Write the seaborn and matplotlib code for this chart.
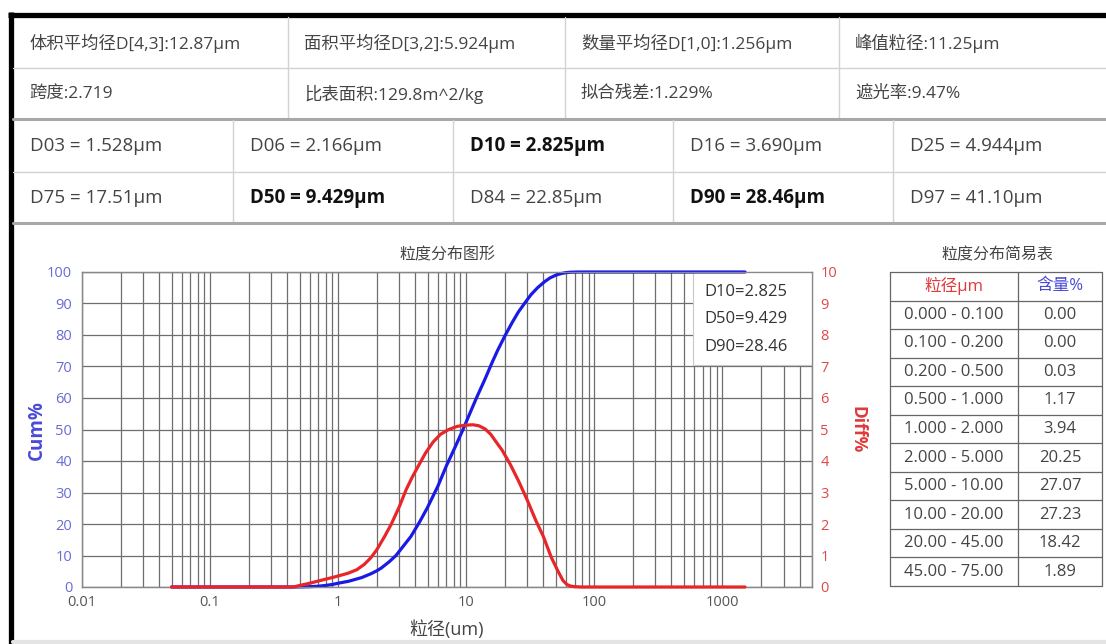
import numpy as np
import pandas as pd
import matplotlib
matplotlib.use("Agg")
import matplotlib.pyplot as plt
import seaborn as sns
from matplotlib.ticker import FixedLocator, LogLocator, NullFormatter
from matplotlib.patches import Rectangle

# Summary values (top blocks)
stats_row1 = ['体积平均径D[4,3]:12.87µm', '面积平均径D[3,2]:5.924µm', '数量平均径D[1,0]:1.256µm', '峰值粒径:11.25µm']
stats_row2 = ['跨度:2.719', '比表面积:129.8m^2/kg', '拟合残差:1.229%', '遮光率:9.47%']
d_row1 = ['D03 = 1.528µm', 'D06 = 2.166µm', 'D10 = 2.825µm', 'D16 = 3.690µm', 'D25 = 4.944µm']
d_row2 = ['D75 = 17.51µm', 'D50 = 9.429µm', 'D84 = 22.85µm', 'D90 = 28.46µm', 'D97 = 41.10µm']
bold_keys = ['D10', 'D50', 'D90']

# Cumulative curve (blue)
cum_size = [0.05, 0.4, 0.5, 0.6, 0.7, 0.8, 0.9, 1.0, 1.2, 1.528, 1.8, 2.0, 2.166, 2.5,
            2.825, 3.2, 3.69, 4.3, 4.944, 5.0, 6.0, 7.0, 8.2, 9.429, 10.0, 12.0, 14.0,
            15.8, 17.51, 20.0, 22.85, 25.5, 28.46, 32.0, 36.0, 41.10, 45.0, 50.0, 55.0,
            60.0, 65.0, 75.0, 100.0, 1500.0]
cum_pct = [0, 0, 0.03, 0.1, 0.25, 0.5, 0.8, 1.2, 1.8, 3, 4.2, 5.14, 6, 8,
           10, 12.8, 16, 20.5, 25, 25.39, 32, 38.5, 44.5, 50, 52.46, 60, 66,
           71, 75, 79.69, 84, 87.3, 90, 92.8, 95, 97, 98.11, 99.0, 99.5,
           99.8, 99.93, 100, 100, 100]

# Differential curve (red)
diff_size = [0.05, 0.45, 0.5, 0.6, 0.7, 0.8, 0.9, 1.0, 1.2, 1.4, 1.6, 1.8, 2.0, 2.3,
             2.6, 3.0, 3.4, 3.8, 4.3, 4.8, 5.5, 6.3, 7.3, 8.5, 10.0, 11.25, 12.5, 14.0,
             15.5, 17.0, 19.0, 22.0, 25.7, 30.0, 35.0, 40.0, 46.0, 52.0, 57.0, 61.0,
             65.0, 70.0, 80.0, 1500.0]
diff_pct = [0, 0, 0.05, 0.12, 0.19, 0.25, 0.3, 0.35, 0.44, 0.55, 0.72, 0.93, 1.18, 1.6,
            2.0, 2.55, 3.1, 3.5, 3.9, 4.25, 4.6, 4.85, 5.0, 5.1, 5.14, 5.15, 5.12, 5.02,
            4.85, 4.62, 4.35, 3.9, 3.35, 2.75, 2.1, 1.6, 0.95, 0.5, 0.2, 0.08,
            0.03, 0.01, 0, 0]

x_ticks = [0.01, 0.1, 1, 10, 100, 1000]
x_tick_labels = ['0.01', '0.1', '1', '10', '100', '1000']
cum_ticks = list(range(0, 101, 10))
diff_ticks = list(range(0, 11))
marks = ['D10=2.825', 'D50=9.429', 'D90=28.46']

# Simple table on the right
bin_labels = ['0.000 - 0.100', '0.100 - 0.200', '0.200 - 0.500', '0.500 - 1.000',
              '1.000 - 2.000', '2.000 - 5.000', '5.000 - 10.00', '10.00 - 20.00',
              '20.00 - 45.00', '45.00 - 75.00']
bin_content = ['0.00', '0.00', '0.03', '1.17', '3.94', '20.25', '27.07', '27.23', '18.42', '1.89']

sns.set_style("white")
plt.rcParams['font.family'] = ['Open Sans', 'Noto Sans CJK SC', 'DejaVu Sans']

W, H = 1106, 644
fig = plt.figure(figsize=(W / 100, H / 100), dpi=100)

# background layer in pixel coordinates for tables/frame
bg = fig.add_axes([0, 0, 1, 1])
bg.set_xlim(0, W)
bg.set_ylim(H, 0)
bg.axis('off')

text_col = '#444444'
line_col = '#d2d2d2'

# black frame
bg.plot([8, W], [14.5, 14.5], color='black', lw=3.8, solid_capstyle='butt')
bg.plot([10.5, 10.5], [12, H], color='black', lw=3.8, solid_capstyle='butt')
bg.plot([13, W], [641.5, 641.5], color='#e4e4e4', lw=3)

# top block: 2 rows x 4 cols
bg.plot([13, W], [68, 68], color=line_col, lw=1)
for x in [288, 565, 839]:
    bg.plot([x, x], [17, 118], color=line_col, lw=1)
col_left1 = [13, 288, 565, 839]
for i, (a, b) in enumerate(zip(stats_row1, stats_row2)):
    bg.text(col_left1[i] + 16, 43, a, fontsize=12.5, color=text_col, va='center')
    bg.text(col_left1[i] + 16, 94, b, fontsize=12.5, color=text_col, va='center')

bg.plot([13, W], [119, 119], color='#a8a8a8', lw=2.2)

# D values block: 2 rows x 5 cols
bg.plot([13, W], [172, 172], color=line_col, lw=1)
for x in [233, 453, 673, 893]:
    bg.plot([x, x], [120, 222], color=line_col, lw=1)
col_left2 = [13, 233, 453, 673, 893]
for i, (a, b) in enumerate(zip(d_row1, d_row2)):
    for txt, y in [(a, 146), (b, 198)]:
        is_bold = txt.split(' ')[0] in bold_keys
        bg.text(col_left2[i] + 17, y, txt, fontsize=13.5,
                color='#111111' if is_bold else text_col,
                fontweight='bold' if is_bold else 'normal', va='center')

bg.plot([13, W], [223, 223], color='#a8a8a8', lw=2.2)

# chart texts
bg.text(447, 255, '粒度分布图形', fontsize=11.5, color=text_col, ha='center', va='center')
bg.text(447, 630, '粒径(um)', fontsize=13, color=text_col, ha='center', va='center')
bg.text(37, 430, 'Cum%', fontsize=13.5, color='#4a4ad8', rotation=90, ha='center', va='center',
        fontweight='bold')
bg.text(857, 430, 'Diff%', fontsize=12.5, color='#e03a3a', rotation=270, ha='center', va='center',
        fontweight='bold')

# right summary table
tx = [890, 1018, 1102]
ty = np.linspace(272, 586, len(bin_labels) + 2)
bg.text(997, 255, '粒度分布简易表', fontsize=11.5, color=text_col, ha='center', va='center')
for y in ty:
    bg.plot([tx[0], tx[2]], [y, y], color='#666666', lw=0.9)
for x in tx:
    bg.plot([x, x], [ty[0], ty[-1]], color='#666666', lw=0.9)
cx1 = (tx[0] + tx[1]) / 2
cx2 = (tx[1] + tx[2]) / 2
bg.text(cx1, (ty[0] + ty[1]) / 2, '粒径µm', fontsize=12, color='#e03a3a', ha='center', va='center')
bg.text(cx2, (ty[0] + ty[1]) / 2, '含量%', fontsize=12, color='#4a4ad8', ha='center', va='center')
for i, (lab, val) in enumerate(zip(bin_labels, bin_content)):
    yc = (ty[i + 1] + ty[i + 2]) / 2
    bg.text(cx1, yc, lab, fontsize=12, color=text_col, ha='center', va='center')
    bg.text(cx2, yc, val, fontsize=12, color=text_col, ha='center', va='center')

# main chart
ax = fig.add_axes([82 / W, 1 - 587 / H, 730 / W, 315 / H])
ax2 = ax.twinx()

cum_df = pd.DataFrame({'size': cum_size, 'pct': cum_pct})
diff_df = pd.DataFrame({'size': diff_size, 'pct': diff_pct})
sns.lineplot(data=cum_df, x='size', y='pct', ax=ax, color='#1a1ae6', lw=2.3,
             zorder=5, clip_on=False)
sns.lineplot(data=diff_df, x='size', y='pct', ax=ax2, color='#e8262a', lw=2.3,
             zorder=5, clip_on=False)

ax.set_xscale('log')
ax.set_xlim(0.01, 5000)
ax.set_ylim(0, 100)
ax2.set_ylim(0, 10)

ax.xaxis.set_major_locator(FixedLocator(x_ticks))
ax.set_xticklabels(x_tick_labels)
ax.xaxis.set_minor_locator(LogLocator(base=10, subs=range(2, 10), numticks=20))
ax.xaxis.set_minor_formatter(NullFormatter())
ax.set_yticks(cum_ticks)
ax2.set_yticks(diff_ticks)

ax.set_axisbelow(True)
ax.grid(which='both', axis='x', color='#6e6e6e', lw=0.9)
ax.grid(which='major', axis='y', color='#6e6e6e', lw=0.9)
ax2.grid(False)

ax.tick_params(axis='x', which='both', length=0, labelsize=10.5, labelcolor='#555555', pad=6)
ax.tick_params(axis='y', length=0, labelsize=10.5, labelcolor='#6a6ad6', pad=7)
ax2.tick_params(axis='y', length=0, labelsize=10.5, labelcolor='#e04848', pad=6)
ax.set_xlabel('')
ax.set_ylabel('')
ax2.set_ylabel('')

for a in (ax, ax2):
    for s in a.spines.values():
        s.set_color('#888888')
        s.set_linewidth(0.9)

# marker box in the upper right corner
ax.add_patch(Rectangle((0.837, 0.705), 0.163, 0.295, transform=ax.transAxes,
                       facecolor='white', edgecolor='#c8c8c8', lw=0.8, zorder=3))
for txt, yy in zip(marks, [0.937, 0.851, 0.762]):
    ax.text(0.853, yy, txt, transform=ax.transAxes, fontsize=12, color='#333333',
            va='center', zorder=4)

fig.savefig('out.png', dpi=100)
